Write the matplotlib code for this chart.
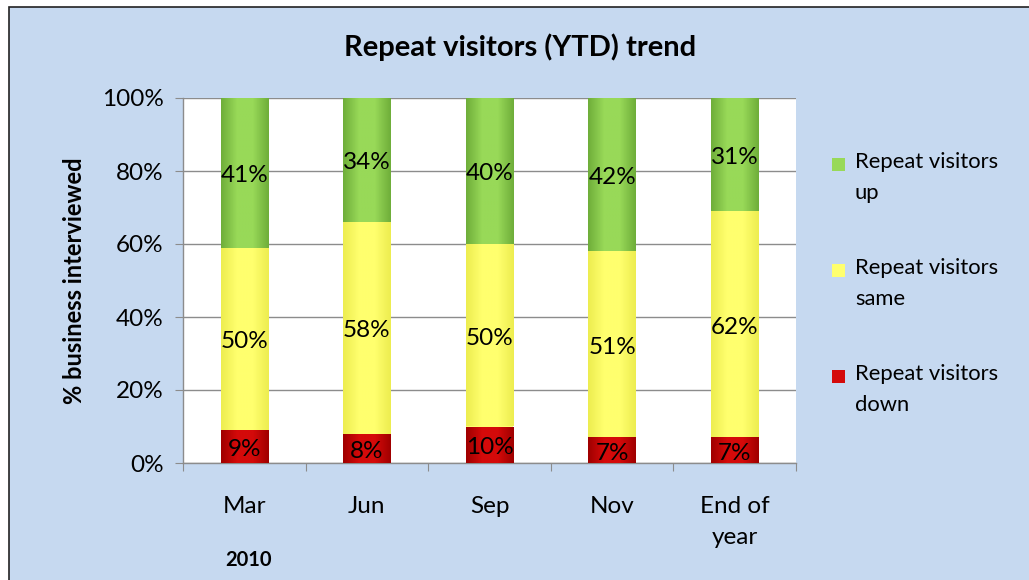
import numpy as np
import matplotlib.pyplot as plt
from matplotlib.patches import Rectangle
from matplotlib.colors import LinearSegmentedColormap
from matplotlib.legend_handler import HandlerPatch

plt.rcParams['font.family'] = ['Lato', 'DejaVu Sans']

# Data (percent of businesses interviewed)
months = ['Mar', 'Jun', 'Sep', 'Nov', 'End of\nyear']
down = [9, 8, 10, 7, 7]
same = [50, 58, 50, 51, 62]
up = [41, 34, 40, 42, 31]
series_names = ['Repeat visitors\nup', 'Repeat visitors\nsame', 'Repeat visitors\ndown']

bg = '#C6D9F0'
# (edge, centre) colours for the bevel look
shades = {
    'down': ('#A00000', '#D40A0A'),
    'same': ('#EDED50', '#FFFF6E'),
    'up': ('#6FAE3A', '#98D958'),
}

fig = plt.figure(figsize=(10.29, 5.8), dpi=100)
fig.patch.set_facecolor('white')
# blue chart area with thin dark border
fig.patches.append(Rectangle((9 / 1029, -0.01), 1.02, 1 - 7 / 580 + 0.01,
                             transform=fig.transFigure, facecolor=bg,
                             edgecolor='#222222', linewidth=1.2, zorder=-10))

ax = fig.add_axes([183 / 1029, 117 / 580, 613 / 1029, 365 / 580])
ax.set_facecolor('white')

x = np.arange(len(months))
width = 0.385


def shaded_bars(bottom, vals, key):
    bars = ax.bar(x, vals, width, bottom=bottom, color=shades[key][1],
                  edgecolor='none', zorder=2)
    cmap = LinearSegmentedColormap.from_list(key, [shades[key][0], shades[key][1],
                                                   shades[key][1], shades[key][0]])
    grad = np.linspace(0, 1, 64).reshape(1, -1)
    for b in bars:
        im = ax.imshow(grad, cmap=cmap, aspect='auto', zorder=3,
                       extent=[b.get_x(), b.get_x() + b.get_width(),
                               b.get_y(), b.get_y() + b.get_height()])
        im.set_clip_path(b)
    return bars


b1 = shaded_bars(np.zeros(5), down, 'down')
b2 = shaded_bars(np.array(down), same, 'same')
b3 = shaded_bars(np.array(down) + np.array(same), up, 'up')

for bars, vals in [(b1, down), (b2, same), (b3, up)]:
    for b, v in zip(bars, vals):
        ax.text(b.get_x() + b.get_width() / 2, b.get_y() + b.get_height() / 2 - 0.8,
                f'{v}%', ha='center', va='center', fontsize=17.5, zorder=5)

ax.set_xlim(-0.5, len(months) - 0.5)
ax.set_ylim(0, 100)
ax.set_yticks(range(0, 101, 20))
ax.set_yticklabels([f'{t}%' for t in range(0, 101, 20)], fontsize=17.5)
ax.yaxis.grid(True, color='#8C8C8C', linewidth=1.0, zorder=0)
ax.set_axisbelow(True)

ax.set_xticks(np.arange(-0.5, len(months), 1))
ax.set_xticklabels([])
ax.set_xticks(x, minor=True)
ax.set_xticklabels(months, minor=True, fontsize=17.5, linespacing=1.55)
ax.tick_params(axis='x', which='major', length=6, color='#8C8C8C')
ax.tick_params(axis='x', which='minor', length=0, pad=24)
ax.tick_params(axis='y', length=6, color='#8C8C8C', pad=8)

for s in ['top', 'right']:
    ax.spines[s].set_visible(False)
for s in ['left', 'bottom']:
    ax.spines[s].set_color('#8C8C8C')
    ax.spines[s].set_linewidth(1.0)

ax.set_ylabel('% business interviewed', fontsize=17, fontweight='bold', labelpad=11)

fig.text(0.505, 1 - 47 / 580, 'Repeat visitors (YTD) trend', ha='center', va='center',
         fontsize=21, fontweight='bold')
fig.text(248 / 1029, 1 - 560 / 580, '2010', ha='center', va='center',
         fontsize=14.5, fontweight='bold')


# small square handle aligned with the first line of the label
def top_square(legend, orig_handle, xdescent, ydescent, width, height, fontsize):
    s = 0.6 * fontsize
    return Rectangle((-xdescent + width - s, -ydescent + height - s + 0.1 * fontsize), s, s)


leg = ax.legend([b3[0], b2[0], b1[0]], series_names, loc='upper left',
                bbox_to_anchor=(1.019, 0.907), frameon=False, fontsize=15.8,
                handlelength=0.8, handleheight=2.2, handletextpad=0.45,
                labelspacing=2.5,
                handler_map={Rectangle: HandlerPatch(patch_func=top_square)})
for t in leg.get_texts():
    t.set_linespacing(1.7)

fig.savefig('out.png', dpi=100, facecolor=fig.get_facecolor())
